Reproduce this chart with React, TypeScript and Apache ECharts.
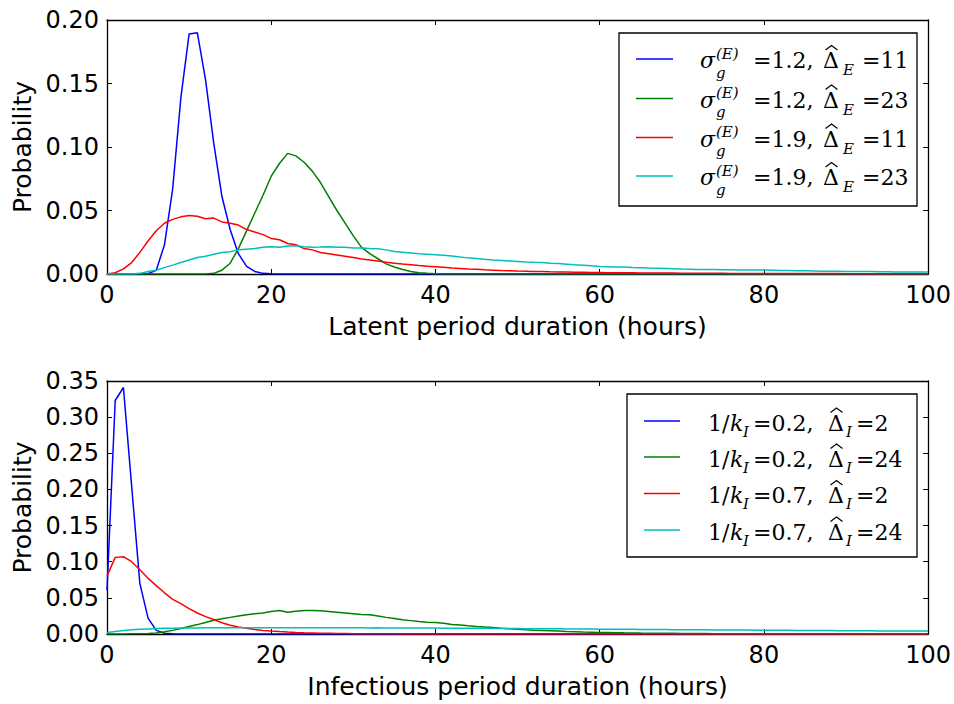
import React, { useEffect, useRef } from "react";
import * as echarts from "echarts";

// hours 0..100 (x positions of samples)
const hours: number[] = Array.from({ length: 101 }, (_, i) => i);

// Latent period distributions
const latentBlue = [
  0, 0, 0, 0, 0, 0.0003, 0.003, 0.023, 0.067, 0.139,
  0.189, 0.19, 0.153, 0.103, 0.061, 0.035, 0.016, 0.006, 0.002, 0.0005,
  0.0001, 0, 0, 0, 0, 0, 0, 0, 0, 0,
  0, 0, 0, 0, 0, 0, 0, 0, 0, 0,
  0, 0, 0, 0, 0, 0, 0, 0, 0, 0,
  0, 0, 0, 0, 0, 0, 0, 0, 0, 0,
  0, 0, 0, 0, 0, 0, 0, 0, 0, 0,
  0, 0, 0, 0, 0, 0, 0, 0, 0, 0,
  0, 0, 0, 0, 0, 0, 0, 0, 0, 0,
  0, 0, 0, 0, 0, 0, 0, 0, 0, 0, 0,
];
const latentGreen = [
  0, 0, 0, 0, 0, 0, 0, 0, 0, 0,
  0, 0, 0, 0.0005, 0.003, 0.0085, 0.02, 0.034, 0.048, 0.062,
  0.077, 0.087, 0.095, 0.093, 0.088, 0.081, 0.072, 0.061, 0.05, 0.04,
  0.03, 0.021, 0.016, 0.012, 0.008, 0.0055, 0.0035, 0.002, 0.001, 0.0005,
  0.0002, 0.0001, 0, 0, 0, 0, 0, 0, 0, 0,
  0, 0, 0, 0, 0, 0, 0, 0, 0, 0,
  0, 0, 0, 0, 0, 0, 0, 0, 0, 0,
  0, 0, 0, 0, 0, 0, 0, 0, 0, 0,
  0, 0, 0, 0, 0, 0, 0, 0, 0, 0,
  0, 0, 0, 0, 0, 0, 0, 0, 0, 0, 0,
];
const latentRed = [
  0, 0.001, 0.004, 0.009, 0.017, 0.026, 0.034, 0.04, 0.043, 0.045,
  0.046, 0.0455, 0.0435, 0.044, 0.041, 0.04, 0.0385, 0.035, 0.033, 0.031,
  0.028, 0.027, 0.024, 0.023, 0.02, 0.019, 0.017, 0.016, 0.015, 0.014,
  0.013, 0.0118, 0.011, 0.0102, 0.0093, 0.0085, 0.0078, 0.0072, 0.0066, 0.0061,
  0.0057, 0.0053, 0.0048, 0.0044, 0.004, 0.0037, 0.0033, 0.003, 0.0027, 0.0025,
  0.0023, 0.0022, 0.002, 0.0019, 0.0017, 0.0016, 0.0015, 0.0014, 0.0013, 0.0012,
  0.0011, 0.001, 0.001, 0.0009, 0.0009, 0.0008, 0.0008, 0.0008, 0.0007, 0.0007,
  0.0006, 0.0006, 0.0006, 0.0005, 0.0005, 0.0005, 0.0004, 0.0004, 0.0004, 0.0004,
  0.0003, 0.0003, 0.0003, 0.0003, 0.0003, 0.0003, 0.0003, 0.0003, 0.0003, 0.0003,
  0.0002, 0.0002, 0.0002, 0.0002, 0.0002, 0.0002, 0.0002, 0.0002, 0.0002, 0.0002, 0.0002,
];
const latentCyan = [
  0, 0, 0, 0, 0.0005, 0.002, 0.003, 0.005, 0.007, 0.009,
  0.011, 0.013, 0.014, 0.0155, 0.017, 0.0175, 0.019, 0.0195, 0.02, 0.021,
  0.0215, 0.021, 0.022, 0.0222, 0.0215, 0.021, 0.0212, 0.0215, 0.021, 0.021,
  0.0205, 0.0205, 0.02, 0.0198, 0.019, 0.0178, 0.0172, 0.0166, 0.016, 0.0156,
  0.0152, 0.0147, 0.0142, 0.0134, 0.0127, 0.0122, 0.0116, 0.0111, 0.0107, 0.0103,
  0.0099, 0.0095, 0.0092, 0.009, 0.0085, 0.0082, 0.0077, 0.0072, 0.0068, 0.0064,
  0.006, 0.0058, 0.0056, 0.0055, 0.0052, 0.005, 0.0047, 0.0045, 0.0043, 0.0041,
  0.0039, 0.0038, 0.0036, 0.0036, 0.0035, 0.0034, 0.0033, 0.0032, 0.0032, 0.0031,
  0.0031, 0.003, 0.0028, 0.0027, 0.0026, 0.0025, 0.0024, 0.0022, 0.0021, 0.0021,
  0.002, 0.002, 0.0019, 0.0019, 0.0018, 0.0017, 0.0016, 0.0016, 0.0016, 0.0015, 0.0015,
];

// Infectious period distributions
const infBlue = [
  0.06, 0.323, 0.341, 0.205, 0.07, 0.022, 0.005, 0.001, 0.0002, 0,
  0, 0, 0, 0, 0, 0, 0, 0, 0, 0,
  0, 0, 0, 0, 0, 0, 0, 0, 0, 0,
  0, 0, 0, 0, 0, 0, 0, 0, 0, 0,
  0, 0, 0, 0, 0, 0, 0, 0, 0, 0,
  0, 0, 0, 0, 0, 0, 0, 0, 0, 0,
  0, 0, 0, 0, 0, 0, 0, 0, 0, 0,
  0, 0, 0, 0, 0, 0, 0, 0, 0, 0,
  0, 0, 0, 0, 0, 0, 0, 0, 0, 0,
  0, 0, 0, 0, 0, 0, 0, 0, 0, 0, 0,
];
const infGreen = [
  0, 0, 0, 0.0002, 0.0004, 0.0008, 0.0015, 0.003, 0.005, 0.0075,
  0.0105, 0.013, 0.016, 0.019, 0.021, 0.023, 0.025, 0.0265, 0.028, 0.029,
  0.031, 0.0325, 0.03, 0.0315, 0.0325, 0.0325, 0.032, 0.031, 0.03, 0.029,
  0.028, 0.027, 0.0265, 0.025, 0.023, 0.0215, 0.0198, 0.0185, 0.0172, 0.0163,
  0.0158, 0.015, 0.0132, 0.0123, 0.0113, 0.0104, 0.0097, 0.009, 0.008, 0.0071,
  0.0064, 0.0058, 0.0053, 0.005, 0.0045, 0.004, 0.0035, 0.0031, 0.0027, 0.0025,
  0.0022, 0.002, 0.0018, 0.0016, 0.0015, 0.0013, 0.0012, 0.0011, 0.001, 0.0009,
  0.0008, 0.0007, 0.0006, 0.0006, 0.0005, 0.0005, 0.0004, 0.0004, 0.0003, 0.0003,
  0.0003, 0.0002, 0.0002, 0.0002, 0.0002, 0.0002, 0.0002, 0.0002, 0.0002, 0.0002,
  0.0001, 0.0001, 0.0001, 0.0001, 0.0001, 0.0001, 0.0001, 0.0001, 0.0001, 0.0001, 0.0001,
];
const infRed = [
  0.08, 0.106, 0.107, 0.1, 0.089, 0.077, 0.067, 0.057, 0.048, 0.042,
  0.035, 0.029, 0.024, 0.02, 0.0155, 0.012, 0.0098, 0.008, 0.0063, 0.005,
  0.004, 0.0033, 0.0027, 0.0022, 0.0018, 0.0015, 0.0012, 0.001, 0.0008, 0.0007,
  0.0005, 0.0004, 0.0003, 0.0003, 0.0002, 0.0002, 0.0001, 0.0001, 0.0001, 0.0001,
  0, 0, 0, 0, 0, 0, 0, 0, 0, 0,
  0, 0, 0, 0, 0, 0, 0, 0, 0, 0,
  0, 0, 0, 0, 0, 0, 0, 0, 0, 0,
  0, 0, 0, 0, 0, 0, 0, 0, 0, 0,
  0, 0, 0, 0, 0, 0, 0, 0, 0, 0,
  0, 0, 0, 0, 0, 0, 0, 0, 0, 0, 0,
];
const infCyan = [
  0.002, 0.0035, 0.005, 0.0058, 0.0065, 0.007, 0.0075, 0.0078, 0.008, 0.0082,
  0.0083, 0.0084, 0.0085, 0.0085, 0.0086, 0.0085, 0.0086, 0.0087, 0.0086, 0.0087,
  0.0088, 0.0087, 0.0087, 0.0088, 0.0087, 0.0086, 0.0087, 0.0086, 0.0086, 0.0085,
  0.0086, 0.0085, 0.0084, 0.0085, 0.0084, 0.0083, 0.0084, 0.0083, 0.0082, 0.0083,
  0.0082, 0.0081, 0.008, 0.0081, 0.0079, 0.0078, 0.0079, 0.0077, 0.0076, 0.0076,
  0.0075, 0.0074, 0.0074, 0.0072, 0.0072, 0.0071, 0.007, 0.0069, 0.0069, 0.0068,
  0.0067, 0.0066, 0.0066, 0.0065, 0.0064, 0.0063, 0.0063, 0.0062, 0.0061, 0.006,
  0.006, 0.0059, 0.0058, 0.0058, 0.0057, 0.0056, 0.0055, 0.0055, 0.0054, 0.0053,
  0.0053, 0.0052, 0.0051, 0.0051, 0.005, 0.0049, 0.0048, 0.0048, 0.0047, 0.0046,
  0.0046, 0.0045, 0.0045, 0.0044, 0.0043, 0.0043, 0.0042, 0.0042, 0.0041, 0.0041, 0.004,
];

// Legend parameters
const latentSigma = ["1.2", "1.2", "1.9", "1.9"];
const latentDelta = ["11", "23", "11", "23"];
const infK = ["0.2", "0.2", "0.7", "0.7"];
const infDelta = ["2", "24", "2", "24"];
const seriesColors = ["#0000ff", "#008000", "#ff0000", "#00bfbf"];

const xTitle1 = "Latent period duration (hours)";
const xTitle2 = "Infectious period duration (hours)";
const yTitle = "Probability";

const SANS = '"DejaVu Sans", sans-serif';
const MATH = '"DejaVu Serif", serif';
const fMain = `22px ${MATH}`;
const fIt = `italic 22px ${MATH}`;
const fSub = `italic 15px ${MATH}`;

function tx(text: string, x: number, y: number, font: string) {
  return {
    type: "text",
    x,
    y,
    silent: true,
    z: 101,
    style: {
      text,
      font,
      fill: "#000",
      textAlign: "left",
      textVerticalAlign: "middle",
      align: "left",
      verticalAlign: "middle",
    },
  };
}

function hat(x: number, y: number) {
  return {
    type: "polyline",
    silent: true,
    z: 101,
    shape: { points: [[x + 2.5, y - 9], [x + 8.5, y - 13.5], [x + 14.5, y - 9]] },
    style: { stroke: "#000", lineWidth: 1.2, fill: null },
  };
}

function buildLegend(): any[] {
  const els: any[] = [];
  // top legend
  els.push({
    type: "rect",
    z: 100,
    silent: true,
    shape: { x: 619, y: 33, width: 298, height: 173 },
    style: { fill: "#fff", stroke: "#000", lineWidth: 1.3 },
  });
  const topRows = [59, 98.5, 137.5, 176];
  topRows.forEach((y, i) => {
    els.push({
      type: "line",
      z: 101,
      silent: true,
      shape: { x1: 636, y1: y, x2: 673, y2: y },
      style: { stroke: seriesColors[i], lineWidth: 1.5 },
    });
    els.push(tx("σ", 700, y + 1.5, fIt));
    els.push(tx("g", 716, y + 13.5, fSub));
    els.push(tx("(E)", 716, y - 5.5, fSub));
    els.push(tx(`=${latentSigma[i]},`, 753, y + 1.5, fMain));
    els.push(tx("Δ", 823, y + 1.5, fMain));
    els.push(hat(823, y));
    els.push(tx("E", 843, y + 11, fSub));
    els.push(tx(`=${latentDelta[i]}`, 862, y + 1.5, fMain));
  });
  // bottom legend
  els.push({
    type: "rect",
    z: 100,
    silent: true,
    shape: { x: 627, y: 394, width: 290, height: 163 },
    style: { fill: "#fff", stroke: "#000", lineWidth: 1.3 },
  });
  const botRows = [421, 457, 493.5, 530];
  botRows.forEach((y, i) => {
    els.push({
      type: "line",
      z: 101,
      silent: true,
      shape: { x1: 644, y1: y, x2: 680, y2: y },
      style: { stroke: seriesColors[i], lineWidth: 1.5 },
    });
    els.push(tx("1/", 708, y + 2, fMain));
    els.push(tx("k", 730, y + 2, fIt));
    els.push(tx("I", 743, y + 10.5, fSub));
    els.push(tx(`=${infK[i]},`, 753, y + 2, fMain));
    els.push(tx("Δ", 828, y + 2, fMain));
    els.push(hat(828, y + 0.5));
    els.push(tx("I", 846, y + 10.5, fSub));
    els.push(tx(`=${infDelta[i]}`, 856, y + 2, fMain));
  });
  return els;
}

const axisLine = { show: true, onZero: false, lineStyle: { color: "#000", width: 1.3 } };
const axisTick = { show: true, inside: true, length: 5, lineStyle: { color: "#000", width: 1 } };
const labelStyle = { fontSize: 24, fontFamily: SANS, color: "#000" };
const nameStyle = { fontSize: 25, fontFamily: SANS, color: "#000" };

function xAxes(grid: number, name: string) {
  return [
    {
      gridIndex: grid,
      type: "value",
      position: "bottom",
      min: 0,
      max: 100,
      interval: 20,
      axisLine,
      axisTick,
      splitLine: { show: false },
      axisLabel: { ...labelStyle, margin: 9 },
      name,
      nameLocation: "middle",
      nameGap: 40,
      nameTextStyle: { ...nameStyle },
    },
    {
      gridIndex: grid,
      type: "value",
      position: "top",
      min: 0,
      max: 100,
      interval: 20,
      axisLine,
      axisTick,
      splitLine: { show: false },
      axisLabel: { show: false },
    },
  ];
}

function yAxes(grid: number, max: number) {
  return [
    {
      gridIndex: grid,
      type: "value",
      position: "left",
      min: 0,
      max,
      interval: 0.05,
      axisLine,
      axisTick,
      splitLine: { show: false },
      axisLabel: { ...labelStyle, margin: 8, formatter: (v: number) => v.toFixed(2) },
      name: yTitle,
      nameLocation: "middle",
      nameGap: 72,
      nameRotate: 90,
      nameTextStyle: { ...nameStyle },
    },
    {
      gridIndex: grid,
      type: "value",
      position: "right",
      min: 0,
      max,
      interval: 0.05,
      axisLine,
      axisTick,
      splitLine: { show: false },
      axisLabel: { show: false },
    },
  ];
}

function lineSeries(name: string, values: number[], color: string, axis: number) {
  return {
    name,
    type: "line",
    xAxisIndex: axis,
    yAxisIndex: axis,
    data: values.map((v, i) => [hours[i], v]),
    showSymbol: false,
    symbol: "none",
    silent: true,
    lineStyle: { color, width: 1.5 },
    itemStyle: { color },
  };
}

export default function App() {
  const ref = useRef<HTMLDivElement>(null);
  useEffect(() => {
    if (!ref.current) return;
    const chart = echarts.init(ref.current, undefined, { renderer: "svg" });
    const latent = [latentBlue, latentGreen, latentRed, latentCyan];
    const inf = [infBlue, infGreen, infRed, infCyan];
    chart.setOption({
      animation: false,
      backgroundColor: "#fff",
      grid: [
        { left: 107, top: 20, width: 822, height: 254, containLabel: false },
        { left: 107, top: 381, width: 822, height: 253, containLabel: false },
      ],
      xAxis: [...xAxes(0, xTitle1), ...xAxes(1, xTitle2)],
      yAxis: [...yAxes(0, 0.2), ...yAxes(1, 0.35)],
      series: [
        ...latent.map((d, i) =>
          lineSeries(`σg(E)=${latentSigma[i]}, ΔE=${latentDelta[i]}`, d, seriesColors[i], 0)
        ),
        ...inf.map((d, i) =>
          lineSeries(`1/kI=${infK[i]}, ΔI=${infDelta[i]}`, d, seriesColors[i], 2)
        ),
      ],
      graphic: buildLegend(),
    });
    return () => chart.dispose();
  }, []);
  return (
    <div
      ref={ref}
      style={{ position: "fixed", left: 0, top: 0, width: 954, height: 704, background: "#fff" }}
    />
  );
}
